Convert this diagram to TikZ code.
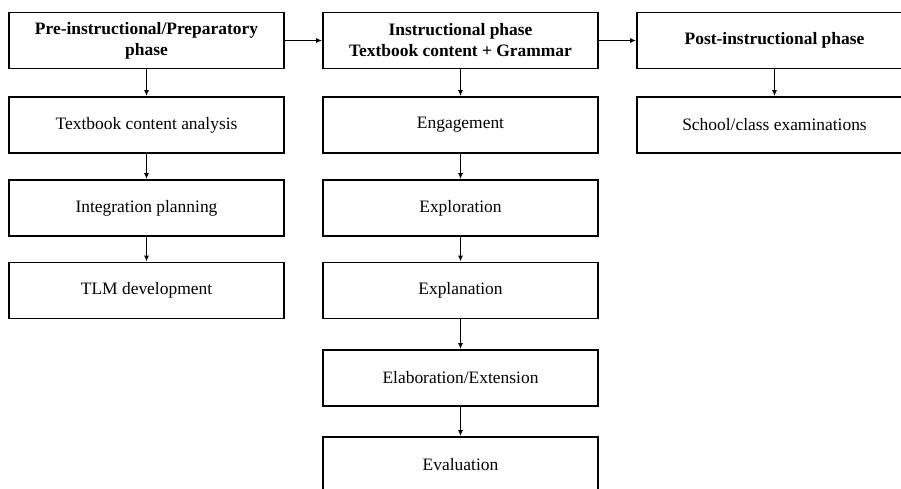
\documentclass[tikz,border=0pt]{standalone}
\usepackage{fontspec}
\setmainfont{Liberation Serif}
\usetikzlibrary{arrows.meta}
\begin{document}
\begin{tikzpicture}[x=1bp,y=-1bp,
  box/.style={draw, line width=1.8bp, minimum width=275bp, minimum height=56bp, inner sep=0pt, align=center, font=\fontsize{17.5}{21}\selectfont},
  hd/.style={box, font=\fontsize{17.5}{21}\selectfont\bfseries},
  arr/.style={line width=1.6bp, -{Latex[length=6bp,width=5bp]}}]
\useasboundingbox (0,0) rectangle (901,489);
\clip (0,0) rectangle (901,489);
% left column
\node[hd]  (p1) at (146.5,40.5) {Pre-instructional/Preparatory\\phase};
\node[box] (p2) at (146.5,125) {Textbook content analysis};
\node[box] (p3) at (146.5,208) {Integration planning};
\node[box] (p4) at (146.5,290.5) {TLM development};
% middle column
\node[hd]  (i1) at (460.5,40.5) {Instructional phase\\Textbook content + Grammar};
\node[box] (i2) at (460.5,125) {Engagement};
\node[box] (i3) at (460.5,208) {Exploration};
\node[box] (i4) at (460.5,290.5) {Explanation};
\node[box] (i5) at (460.5,378) {Elaboration/Extension};
\node[box] (i6) at (460.5,465) {Evaluation};
% right column
\node[hd]  (q1) at (774.5,40.5) {Post-instructional phase};
\node[box] (q2) at (774.5,125) {School/class examinations};
% connectors
\draw[arr] (p1) -- (i1);
\draw[arr] (i1) -- (q1);
\draw[arr] (p1) -- (p2);
\draw[arr] (p2) -- (p3);
\draw[arr] (p3) -- (p4);
\draw[arr] (i1) -- (i2);
\draw[arr] (i2) -- (i3);
\draw[arr] (i3) -- (i4);
\draw[arr] (i4) -- (i5);
\draw[arr] (i5) -- (i6);
\draw[arr] (q1) -- (q2);
\end{tikzpicture}
\end{document}
